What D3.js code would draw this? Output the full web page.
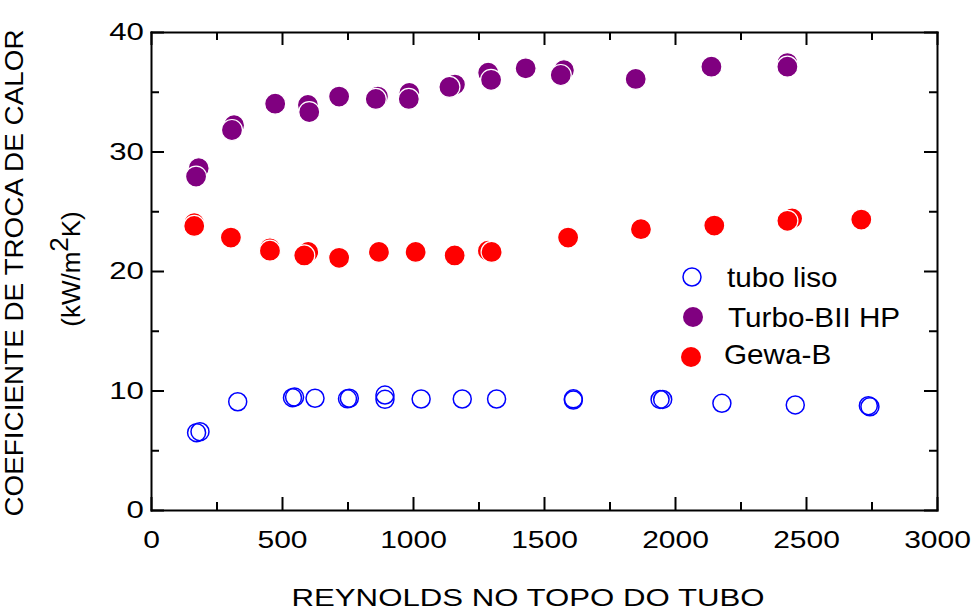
<!DOCTYPE html>
<html>
<head>
<meta charset="utf-8">
<script src="https://cdn.jsdelivr.net/npm/d3@7"></script>
<style>
  body { margin: 0; background: #fff; }
  text { font-family: Arial, "Liberation Sans", sans-serif; fill: #000; }
</style>
</head>
<body>
<div id="chart"></div>
<script>
// tubo liso (open blue circles)
var lisoRe = [174, 187, 331, 540, 548, 626, 750, 757, 893, 893, 1031, 1188, 1319, 1612, 1612, 1943, 1953, 2179, 2459, 2738, 2744];
var lisoH  = [6.47, 6.55, 9.06, 9.4, 9.45, 9.35, 9.3, 9.35, 9.26, 9.62, 9.29, 9.29, 9.29, 9.2, 9.3, 9.25, 9.25, 8.93, 8.79, 8.73, 8.64];

// Turbo-BII HP (second run first, so it sits behind)
var turboRe = [182, 317, 599, 866, 986, 1160, 1287, 1576, 2429,
               172, 309, 474, 604, 718, 858, 984, 1139, 1298, 1430, 1564, 1850, 2139, 2429];
var turboH  = [28.6, 32.2, 33.9, 34.6, 34.9, 35.6, 36.6, 36.8, 37.4,
               27.9, 31.8, 34.0, 33.3, 34.6, 34.4, 34.4, 35.4, 36.0, 36.96, 36.4, 36.07, 37.1, 37.1];

// Gewa-B
var gewaRe = [165, 454, 600, 1286, 2447,
              165, 305, 454, 585, 718, 870, 1010, 1159, 1300, 1592, 1870, 2150, 2429, 2711];
var gewaH  = [24.0, 21.9, 21.6, 21.7, 24.4,
              23.77, 22.8, 21.7, 21.3, 21.1, 21.6, 21.6, 21.3, 21.6, 22.8, 23.5, 23.8, 24.2, 24.3];

var xMajor = [0, 500, 1000, 1500, 2000, 2500, 3000];
var xMinor = [250, 750, 1250, 1750, 2250, 2750];
var yMajor = [0, 10, 20, 30, 40];
var yMinor = [5, 15, 25, 35];

var legendNames = ['tubo liso', 'Turbo-BII HP', 'Gewa-B'];

var W = 973, H = 611;
var margin = { left: 151, right: 36, top: 32, bottom: 101 };
var width = W - margin.left - margin.right;
var height = H - margin.top - margin.bottom;

var x = d3.scaleLinear().domain([0, 3000]).range([0, width]);
var y = d3.scaleLinear().domain([0, 40]).range([height, 0]);

var svg = d3.select('#chart')
    .append('svg')
    .attr('width', W)
    .attr('height', H);

var g = svg.append('g')
    .attr('transform', 'translate(' + margin.left + ',' + margin.top + ')');

// frame + ticks, all pointing inward
function styleAxis(sel) {
    sel.selectAll('path, line').attr('stroke', '#000').attr('stroke-width', 2);
    sel.select('.domain').attr('stroke-linecap', 'square');
}

var bottom = g.append('g')
    .attr('transform', 'translate(0,' + height + ')')
    .call(d3.axisBottom(x).tickValues(xMajor).tickFormat(d3.format('d'))
        .tickSize(-13).tickSizeOuter(0).tickPadding(21));
bottom.call(styleAxis);
bottom.selectAll('text')
    .attr('font-size', 24)
    .attr('transform', 'scale(1.25,1)');

g.append('g')
    .attr('transform', 'translate(0,' + height + ')')
    .call(d3.axisBottom(x).tickValues(xMinor).tickSize(-8).tickFormat(''))
    .call(styleAxis)
    .select('.domain').remove();

g.append('g')
    .call(d3.axisTop(x).tickValues(xMajor).tickSize(-13).tickSizeOuter(0).tickFormat(''))
    .call(styleAxis);
g.append('g')
    .call(d3.axisTop(x).tickValues(xMinor).tickSize(-8).tickFormat(''))
    .call(styleAxis)
    .select('.domain').remove();

var left = g.append('g')
    .call(d3.axisLeft(y).tickValues(yMajor).tickFormat(d3.format('d'))
        .tickSize(-13).tickSizeOuter(0).tickPadding(0));
left.call(styleAxis);
left.selectAll('text')
    .attr('font-size', 24)
    .attr('x', -5.5)
    .attr('transform', 'scale(1.3,1)');

g.append('g')
    .call(d3.axisLeft(y).tickValues(yMinor).tickSize(-8).tickFormat(''))
    .call(styleAxis)
    .select('.domain').remove();

g.append('g')
    .attr('transform', 'translate(' + width + ',0)')
    .call(d3.axisRight(y).tickValues(yMajor).tickSize(-13).tickSizeOuter(0).tickFormat(''))
    .call(styleAxis);
g.append('g')
    .attr('transform', 'translate(' + width + ',0)')
    .call(d3.axisRight(y).tickValues(yMinor).tickSize(-8).tickFormat(''))
    .call(styleAxis)
    .select('.domain').remove();

// data
g.append('g').selectAll('circle')
    .data(d3.zip(lisoRe, lisoH))
    .join('circle')
    .attr('cx', d => x(d[0]))
    .attr('cy', d => y(d[1]))
    .attr('r', 9)
    .attr('fill', 'none')
    .attr('stroke', '#0000ff')
    .attr('stroke-width', 1.5);

g.append('g').selectAll('circle')
    .data(d3.zip(turboRe, turboH))
    .join('circle')
    .attr('cx', d => x(d[0]))
    .attr('cy', d => y(d[1]))
    .attr('r', 10.5)
    .attr('fill', '#800080')
    .attr('stroke', '#fff')
    .attr('stroke-width', 1.2);

g.append('g').selectAll('circle')
    .data(d3.zip(gewaRe, gewaH))
    .join('circle')
    .attr('cx', d => x(d[0]))
    .attr('cy', d => y(d[1]))
    .attr('r', 10.5)
    .attr('fill', '#ff0000')
    .attr('stroke', '#fff')
    .attr('stroke-width', 1.2);

// legend
var legendY = [277, 317, 357];
var legendTextY = [287, 327, 364];
var legendTextX = [727, 728, 724];
var legendMarkX = [692, 693, 691];

svg.append('circle')
    .attr('cx', legendMarkX[0]).attr('cy', legendY[0]).attr('r', 9)
    .attr('fill', 'none').attr('stroke', '#0000ff').attr('stroke-width', 1.5);
svg.append('circle')
    .attr('cx', legendMarkX[1]).attr('cy', legendY[1]).attr('r', 10)
    .attr('fill', '#800080');
svg.append('circle')
    .attr('cx', legendMarkX[2]).attr('cy', legendY[2]).attr('r', 10)
    .attr('fill', '#ff0000');

legendNames.forEach(function (name, i) {
    svg.append('text')
        .attr('transform', 'translate(' + legendTextX[i] + ',' + legendTextY[i] + ') scale(1.1,1)')
        .attr('font-size', 27)
        .text(name);
});

// axis titles
svg.append('text')
    .attr('x', 528)
    .attr('y', 606)
    .attr('text-anchor', 'middle')
    .attr('font-size', 24)
    .attr('textLength', 473)
    .attr('lengthAdjust', 'spacingAndGlyphs')
    .text('REYNOLDS NO TOPO DO TUBO');

svg.append('text')
    .attr('transform', 'translate(23,273) rotate(-90)')
    .attr('text-anchor', 'middle')
    .attr('font-size', 25)
    .attr('textLength', 487)
    .attr('lengthAdjust', 'spacingAndGlyphs')
    .text('COEFICIENTE DE TROCA DE CALOR');

var unit = svg.append('text')
    .attr('transform', 'translate(80,269) rotate(-90)')
    .attr('text-anchor', 'middle')
    .attr('font-size', 26);
unit.append('tspan').text('(kW/m');
unit.append('tspan').attr('dy', -12).text('2');
unit.append('tspan').attr('dy', 12).text('K)');
</script>
</body>
</html>
